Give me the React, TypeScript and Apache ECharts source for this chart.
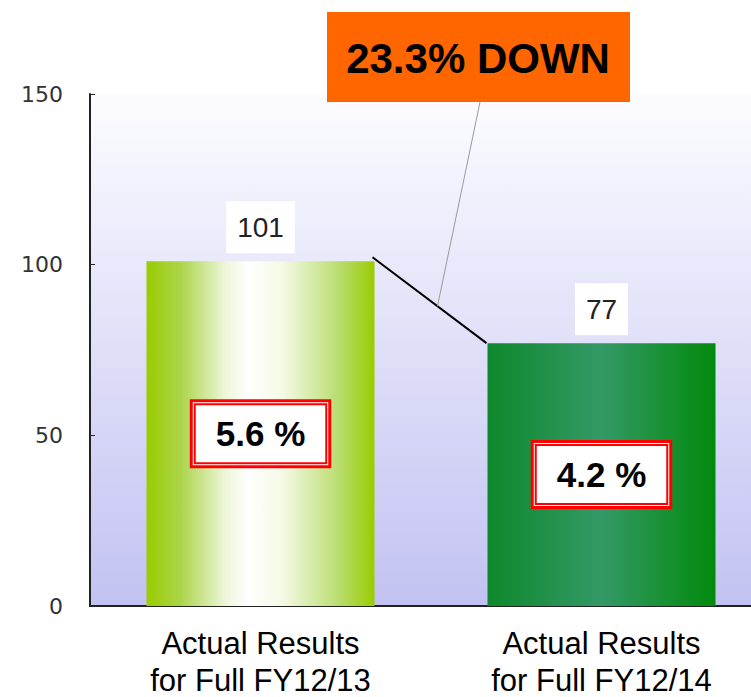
import React, { useEffect, useRef } from "react";
import * as echarts from "echarts";

const categories = ["Actual Results\nfor Full FY12/13", "Actual Results\nfor Full FY12/14"];
const values = [101, 77];
const ratios = ["5.6 %", "4.2 %"];
const yTicks = { min: 0, max: 150, interval: 50 };
const headline = "23.3% DOWN";

const BAR_W = 228;

export default function App() {
  const ref = useRef<HTMLDivElement>(null);
  useEffect(() => {
    if (!ref.current) return;
    const chart = echarts.init(ref.current, undefined, { renderer: "svg" });
    const barColors = [
      new echarts.graphic.LinearGradient(0, 0, 1, 0, [
        { offset: 0, color: "#99cc00" },
        { offset: 0.15, color: "#acd44a" },
        { offset: 0.35, color: "#eef7dc" },
        { offset: 0.45, color: "#ffffff" },
        { offset: 0.6, color: "#f4f9e4" },
        { offset: 0.85, color: "#b8dc6c" },
        { offset: 1, color: "#99cc00" },
      ]),
      new echarts.graphic.LinearGradient(0, 0, 1, 0, [
        { offset: 0, color: "#0e882c" },
        { offset: 0.5, color: "#339966" },
        { offset: 1, color: "#028a0c" },
      ]),
    ];
    const labelFont = {
      fontFamily: "Liberation Sans, Arial, sans-serif",
      fontSize: 31,
      color: "#000",
    };
    chart.setOption({
      animation: false,
      grid: {
        left: 90,
        top: 94,
        bottom: 91,
        width: 682,
        outerBoundsMode: "none",
        containLabel: false,
        show: true,
        borderWidth: 0,
        backgroundColor: new echarts.graphic.LinearGradient(0, 0, 0, 1, [
          { offset: 0, color: "#fcfcff" },
          { offset: 1, color: "#c2c2f2" },
        ]),
      },
      xAxis: {
        type: "category",
        data: categories,
        axisLine: { lineStyle: { color: "#222", width: 2 } },
        axisTick: { inside: true, length: 5, lineStyle: { color: "#222" } },
        axisLabel: {
          margin: 16,
          formatter: (v: string) => {
            const parts = v.split("\n");
            return "{a|" + parts[0] + "}\n{b|" + parts[1] + "}";
          },
          rich: {
            a: { ...labelFont, lineHeight: 43 },
            b: { ...labelFont, lineHeight: 31 },
          },
        },
      },
      yAxis: {
        type: "value",
        min: yTicks.min,
        max: yTicks.max,
        interval: yTicks.interval,
        splitLine: { show: false },
        axisLine: { show: true, lineStyle: { color: "#222", width: 2 } },
        axisTick: { show: true, inside: true, length: 5, lineStyle: { color: "#222" } },
        axisLabel: {
          fontFamily: "DejaVu Sans, sans-serif",
          fontSize: 22,
          color: "#333",
          margin: 27,
        },
      },
      series: [
        {
          type: "bar",
          barWidth: BAR_W,
          data: values.map((v, i) => ({ value: v, itemStyle: { color: barColors[i] } })),
          label: {
            show: true,
            position: "top",
            distance: 8,
            fontFamily: "Liberation Sans, Arial, sans-serif",
            fontSize: 28,
            color: "#222",
            backgroundColor: "#ffffff",
            padding: [12, 11],
          },
          z: 2,
        },
        {
          type: "bar",
          barWidth: BAR_W,
          barGap: "-100%",
          data: values,
          itemStyle: { color: "rgba(0,0,0,0)" },
          label: {
            show: true,
            position: "inside",
            formatter: (p: any) => "{a|" + ratios[p.dataIndex] + "}",
            backgroundColor: "#ffffff",
            borderColor: "#ff0000",
            borderWidth: 3,
            padding: 3,
            rich: {
              a: {
                fontFamily: "Liberation Sans, Arial, sans-serif",
                fontSize: 35,
                fontWeight: "bold",
                color: "#000",
                backgroundColor: "#ffffff",
                borderColor: "#ff0000",
                borderWidth: 2,
                padding: [11, 20],
              },
            },
          },
          z: 3,
        },
      ],
    });

    const p1 = chart.convertToPixel({ xAxisIndex: 0, yAxisIndex: 0 }, [0, values[0]]) as number[];
    const p2 = chart.convertToPixel({ xAxisIndex: 0, yAxisIndex: 0 }, [1, values[1]]) as number[];
    const x1 = p1[0] + BAR_W / 2 - 2;
    const y1 = p1[1] - 4;
    const x2 = p2[0] - BAR_W / 2 - 1;
    const y2 = p2[1];
    const t = 0.57;
    const mx = x1 + (x2 - x1) * t;
    const my = y1 + (y2 - y1) * t;

    chart.setOption({
      graphic: [
        {
          type: "line",
          shape: { x1, y1, x2, y2 },
          style: { stroke: "#000", lineWidth: 2 },
          z: 10,
        },
        {
          type: "line",
          shape: { x1: 480, y1: 102, x2: mx, y2: my },
          style: { stroke: "#999", lineWidth: 1 },
          z: 10,
        },
        {
          type: "rect",
          shape: { x: 327, y: 12, width: 303, height: 90 },
          style: { fill: "#ff6600" },
          z: 11,
        },
        {
          type: "text",
          x: 478,
          y: 58,
          style: {
            text: headline,
            fontFamily: "Liberation Sans, Arial, sans-serif",
            fontSize: 42,
            fontWeight: "bold",
            fill: "#000",
            align: "center",
            verticalAlign: "middle",
          },
          z: 12,
        },
      ],
    });

    return () => chart.dispose();
  }, []);
  return (
    <div
      ref={ref}
      style={{ position: "fixed", left: 0, top: 0, width: 751, height: 697, background: "#fff" }}
    />
  );
}
